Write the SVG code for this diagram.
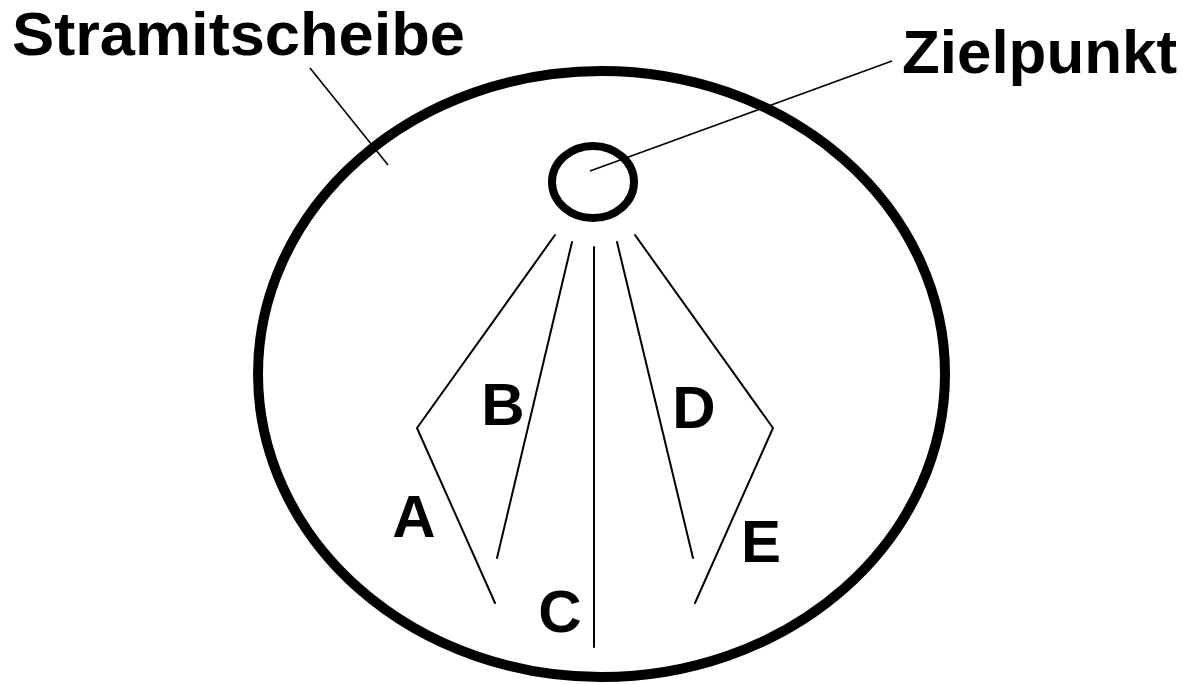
<svg xmlns="http://www.w3.org/2000/svg" width="1189" height="684" viewBox="0 0 1189 684">
<style>
.lbl{font-family:"Liberation Sans",Arial,sans-serif;font-weight:bold;fill:#000}
.big{font-size:62px}
.let{font-size:60px;text-anchor:middle}
.thin{stroke:#000;stroke-width:2;fill:none;stroke-linecap:round}
.lead{stroke:#000;stroke-width:1.6;fill:none}
</style>
<rect width="1189" height="684" fill="#fff"/>
<g id="stramitscheibe">
<ellipse cx="601.5" cy="374" rx="343.5" ry="303" fill="none" stroke="#000" stroke-width="10"/>
</g>
<g id="zielpunkt">
<ellipse cx="593" cy="182" rx="41" ry="36" fill="none" stroke="#000" stroke-width="8"/>
</g>
<g id="labels">
<text class="lbl big" x="12" y="55" textLength="453" lengthAdjust="spacingAndGlyphs">Stramitscheibe</text>
<text class="lbl big" x="902" y="73" textLength="275" lengthAdjust="spacingAndGlyphs">Zielpunkt</text>
</g>
<g id="connectors">
<line class="lead" x1="310" y1="68" x2="388" y2="165"/>
<line class="lead" x1="590" y1="171" x2="892" y2="61"/>
<polyline class="thin" points="555,235 417,428 495,603"/>
<line class="thin" x1="572" y1="242" x2="497" y2="558"/>
<line class="thin" x1="594" y1="247" x2="594" y2="647"/>
<line class="thin" x1="617" y1="242" x2="693" y2="558"/>
<polyline class="thin" points="635,235 773,428 695,603"/>
</g>
<g id="letters">
<text class="lbl let" x="414" y="537">A</text>
<text class="lbl let" x="503" y="425">B</text>
<text class="lbl let" x="560" y="632">C</text>
<text class="lbl let" x="694" y="428">D</text>
<text class="lbl let" x="761" y="562">E</text>
</g>
</svg>
